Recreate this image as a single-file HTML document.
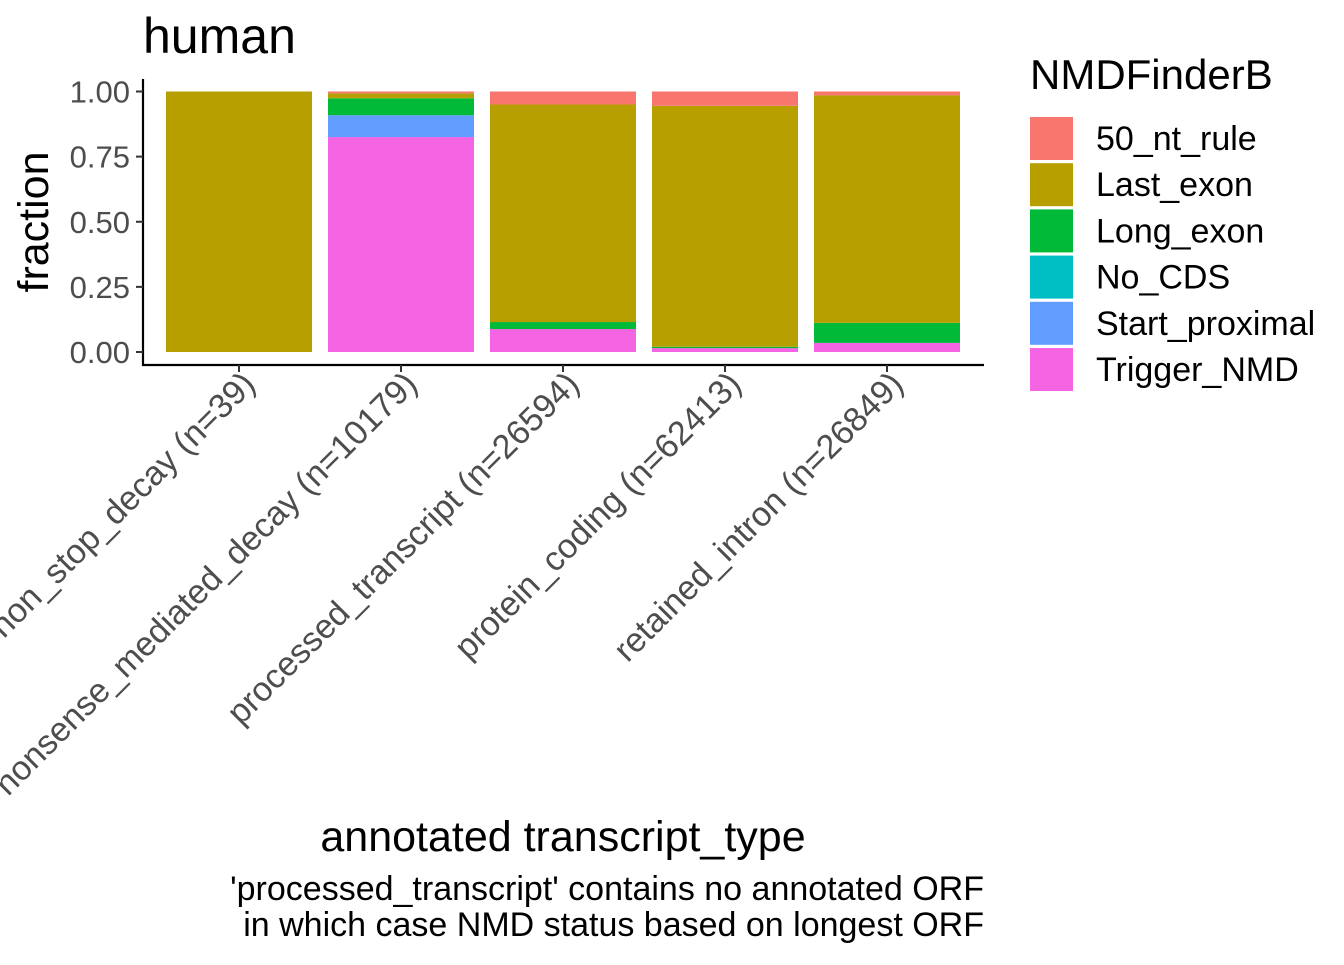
<!DOCTYPE html>
<html><head><meta charset="utf-8"><style>
body{margin:0;background:#fff;font-family:"Liberation Sans",Arial,sans-serif;}
svg text{font-family:"Liberation Sans",Arial,sans-serif;}
</style></head><body>
<svg id="chart" width="1344" height="960" xmlns="http://www.w3.org/2000/svg">
<text x="143" y="53" font-size="50" fill="#000">human</text>
<g id="bars"></g>
<g id="axes"></g>
<text x="563" y="851" font-size="43" text-anchor="middle" fill="#000">annotated transcript_type</text>
<text transform="translate(48,222) rotate(-90)" font-size="43" text-anchor="middle" fill="#000">fraction</text>
<text x="984" y="900" font-size="34" text-anchor="end" fill="#000">'processed_transcript' contains no annotated ORF</text>
<text x="984" y="936" font-size="34" text-anchor="end" fill="#000">in which case NMD status based on longest ORF</text>
<text x="1030" y="89" font-size="42" fill="#000">NMDFinderB</text>
<g id="legend"></g>
</svg>
<script>
const categories=["non_stop_decay (n=39)","nonsense_mediated_decay (n=10179)","processed_transcript (n=26594)","protein_coding (n=62413)","retained_intron (n=26849)"];
const seriesNames=["Trigger_NMD","Start_proximal","No_CDS","Long_exon","Last_exon","50_nt_rule"];
const legendOrder=["50_nt_rule","Last_exon","Long_exon","No_CDS","Start_proximal","Trigger_NMD"];
const colors={"50_nt_rule":"#F8766D","Last_exon":"#B79F00","Long_exon":"#00BA38","No_CDS":"#00BFC4","Start_proximal":"#619CFF","Trigger_NMD":"#F564E3"};
const trigger=[0,0.825,0.088,0.015,0.035];
const startProx=[0,0.084,0,0,0];
const noCds=[0,0,0,0,0];
const longExon=[0,0.065,0.027,0.005,0.077];
const lastExon=[1,0.019,0.835,0.925,0.873];
const nt50=[0,0.007,0.05,0.055,0.015];
const yTicks=[0,0.25,0.5,0.75,1];
const yTickLabels=["0.00","0.25","0.50","0.75","1.00"];
const values=[trigger,startProx,noCds,longExon,lastExon,nt50];
const NS="http://www.w3.org/2000/svg";
const x0=143,x1=984,yBase=352,yTop=91.5;
const xs=i=>239+i*162;
const ys=v=>yBase-v*(yBase-yTop);
const bw=146;
const bars=document.getElementById('bars');
categories.forEach((c,i)=>{
  let cum=0;
  values.forEach((arr,s)=>{
    const v=arr[i]; if(v<=0) return;
    const r=document.createElementNS(NS,'rect');
    r.setAttribute('x',xs(i)-bw/2);r.setAttribute('width',bw);
    r.setAttribute('y',ys(cum+v));r.setAttribute('height',ys(cum)-ys(cum+v));
    r.setAttribute('fill',colors[seriesNames[s]]);
    
    
    bars.appendChild(r); cum+=v;
  });
});
const ax=document.getElementById('axes');
function add(tag,attrs,name,text){const e=document.createElementNS(NS,tag);for(const k in attrs)e.setAttribute(k,attrs[k]);


if(text!==undefined)e.textContent=text;ax.appendChild(e);return e;}
add('line',{x1:x0,y1:79,x2:x0,y2:366,stroke:'#000','stroke-width':2.2},'y-axis-line');
add('line',{x1:x0-1,y1:365,x2:x1,y2:365,stroke:'#000','stroke-width':2.2},'x-axis-line');
yTicks.forEach((t,k)=>{
  add('line',{x1:x0-7,y1:ys(t),x2:x0,y2:ys(t),stroke:'#333','stroke-width':2},'y-tick');
  add('text',{x:x0-13,y:ys(t)+11,'font-size':31,'text-anchor':'end',fill:'#4d4d4d'},'y-tick-label',yTickLabels[k]);
});
categories.forEach((c,i)=>{
  add('line',{x1:xs(i),y1:365,x2:xs(i),y2:372,stroke:'#333','stroke-width':2},'x-tick');
  add('text',{transform:`translate(${xs(i)+18},${386}) rotate(-45)`,'font-size':34,'text-anchor':'end',fill:'#4d4d4d'},'x-tick-label',c);
});
const lg=document.getElementById('legend');
legendOrder.forEach((n,k)=>{
  const y=117+k*46.2;
  const r=document.createElementNS(NS,'rect');
  r.setAttribute('x',1030);r.setAttribute('y',y);r.setAttribute('width',43);r.setAttribute('height',43);r.setAttribute('fill',colors[n]);
  
  
  lg.appendChild(r);
  const t=document.createElementNS(NS,'text');
  t.setAttribute('x',1096);t.setAttribute('y',y+33);t.setAttribute('font-size',34);t.textContent=n;
  
  
  lg.appendChild(t);
});
</script>
</body></html>
